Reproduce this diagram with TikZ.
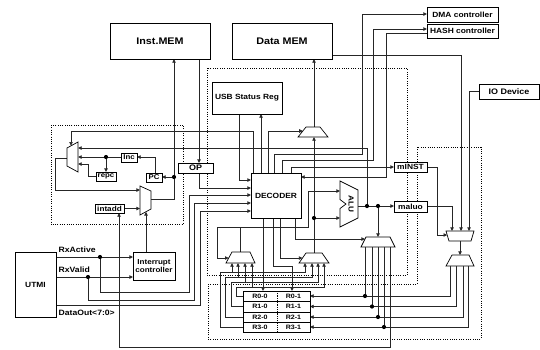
\documentclass[tikz,border=0pt]{standalone}
\usepackage{fontspec}
\setmainfont{Liberation Sans}[FakeStretch=1.12]
\usetikzlibrary{arrows.meta}
\newcommand{\fsz}[1]{\bfseries\fontsize{#1}{#1}\selectfont}
\begin{document}
\begin{tikzpicture}[x=1pt,y=-1pt,
  box/.style={draw,line width=0.7pt,fill=white,inner sep=0pt,font=\fsz{7.5}},
  wire/.style={line width=0.7pt,black!85},
  arr/.style={wire,-{Triangle[length=3.6pt,width=3.4pt]}},
  dotbox/.style={line width=0.8pt,dash pattern=on 1pt off 1.3pt},
  mux/.style={draw,line width=0.7pt,fill=white},
  jdot/.style={circle,fill=black,inner sep=0pt,minimum size=4.2pt},
  lbl/.style={font=\fsz{7.7},inner sep=0pt,anchor=west},
  reg/.style={font=\fsz{6.3},inner sep=0pt}]
\useasboundingbox[fill=white] (0,0) rectangle (540,349);

% dashed regions
\draw[dotbox] (207,68) rectangle (407,275);
\draw[dotbox] (51,125) rectangle (183,224.5);
\draw[dotbox] (208,284) -- (417,284) -- (417,147) -- (481,147) -- (481,339) -- (208,339) -- cycle;

% ---------- wires from DECODER top
\draw[arr] (253,173) -- (253,131) -- (71,131) -- (71,145.6);
\draw[arr] (261,173) -- (261,114);
\draw[arr] (268,173) -- (268,131) -- (302.8,131);
\draw[arr] (274,173) -- (274,154) -- (362,154) -- (362,14) -- (427,14);
\draw[arr] (282,173) -- (282,160) -- (373,160) -- (373,29) -- (427,29);
\draw[arr] (291,173) -- (291,167) -- (394,167);
% ---------- DECODER left inputs
\draw[arr] (239,114) -- (239,180) -- (251,180);
\draw[arr] (199,173) -- (199,188) -- (251,188);
\draw[arr] (100,257) -- (100,292) -- (189,292) -- (189,195) -- (251,195);
\draw[arr] (88,277) -- (88,300) -- (194,300) -- (194,203) -- (251,203);
\draw[arr] (56,305) -- (200,305) -- (200,211) -- (251,211);
% ---------- UTMI to interrupt controller
\draw[arr] (56,257) -- (133,257);
\draw[arr] (56,277) -- (133,277);
% ---------- PC logic
\draw[arr] (146,252) -- (146,211.9);
\draw[arr] (124,208.5) -- (140,208.5);
\draw[arr] (67,158) -- (55,158) -- (55,190) -- (140,190);
\draw[wire] (151,199) -- (174,199) -- (174,177);
\draw[arr] (174,177) -- (162,177);
\draw[arr] (174,177) -- (174,59);
\draw[arr] (155,173) -- (155,157) -- (137,157);
\draw[arr] (121,157) -- (78,157);
\draw[arr] (106,157) -- (106,172);
\draw[arr] (96,176.5) -- (88,176.5) -- (88,164) -- (78,164);
\draw[arr] (199,59) -- (199,163);
\draw[arr] (367,206) -- (367,148) -- (78,148);
% ---------- ALU and write-back
\draw[arr] (358,206) -- (394,206);
\draw[arr] (378,206) -- (378,237);
\draw[arr] (295,218) -- (295,239) -- (365,239);
\draw[arr] (280,218) -- (280,258) -- (302.5,258);
\draw[arr] (263,218) -- (263,291);
\draw[arr] (273,218) -- (273,266) -- (292,266) -- (292,291);
\draw[arr] (314,253) -- (314,137);
\draw[arr] (314,218) -- (340,218);
\draw[arr] (314,127) -- (314,59);
\draw[arr] (240,252) -- (240,227) -- (308,227) -- (308,191) -- (340,191);
\draw[arr] (240,227) -- (217,227) -- (217,258) -- (228.7,258);
% ---------- peripherals
\draw[arr] (427,33) -- (386,33) -- (386,177) -- (301,177);
\draw[arr] (332,55) -- (461,55) -- (461,231);
\draw[arr] (479,91.5) -- (469,91.5) -- (469,231);
\draw[arr] (427,206) -- (452,206) -- (452,231);
\draw[arr] (427,167) -- (437,167) -- (437,235) -- (447.2,235);
\draw[arr] (460,241) -- (460,255);
% ---------- register write lines
\draw[arr] (450,266) -- (450,296) -- (310,296);
\draw[arr] (456,266) -- (456,306.5) -- (310,306.5);
\draw[arr] (463,266) -- (463,317) -- (310,317);
\draw[arr] (468,266) -- (468,327) -- (310,327);
\draw[wire] (365,247) -- (365,296);
\draw[wire] (372,247) -- (372,306.5);
\draw[wire] (378,247) -- (378,317);
\draw[wire] (384,247) -- (384,327);
\draw[arr] (390,247) -- (390,347) -- (119,347) -- (119,213);
% ---------- register read lines
\draw[arr] (243,327) -- (220,327) -- (220,272) -- (305,272) -- (305,263);
\draw[arr] (232,272) -- (232,263);
\draw[arr] (243,317) -- (225.5,317) -- (225.5,277) -- (312,277) -- (312,263);
\draw[arr] (238,277) -- (238,263);
\draw[arr] (243,306.5) -- (231,306.5) -- (231,282) -- (318,282) -- (318,263);
\draw[arr] (245,282) -- (245,263);
\draw[arr] (243,296) -- (236.5,296) -- (236.5,287) -- (324,287) -- (324,263);
\draw[arr] (252,287) -- (252,263);

% ---------- multiplexers
\draw[mux] (78,142) -- (78,172) -- (67,166) -- (67,148) -- cycle;
\draw[mux] (140,186) -- (151,191) -- (151,209) -- (140,215) -- cycle;
\draw[mux] (306,127) -- (320,127) -- (328,137) -- (298,137) -- cycle;
\draw[mux] (232,252) -- (250,252) -- (255,263) -- (226,263) -- cycle;
\draw[mux] (306,253) -- (322,253) -- (329,263) -- (299,263) -- cycle;
\draw[mux] (366,237) -- (390,237) -- (395,247) -- (361,247) -- cycle;
\draw[mux] (446,231) -- (474,231) -- (471,241) -- (449,241) -- cycle;
\draw[mux] (452,255) -- (469,255) -- (474,266) -- (446,266) -- cycle;
% ALU
\draw[mux] (340,181) -- (358,190) -- (358,218) -- (340,227) -- (340,208.5) -- (346,204) -- (340,199.5) -- cycle;
\node[rotate=-90,font=\fsz{7.3},inner sep=0pt] (alu) at (351,204) {ALU};

% ---------- boxes
\node[box,minimum width=100pt,minimum height=36pt,font=\fsz{9.6}] (imem) at (160,41) {Inst.MEM};
\node[box,minimum width=100pt,minimum height=36pt,font=\fsz{9.6}] (dmem) at (282,41) {Data MEM};
\node[box,minimum width=71pt,minimum height=15pt] (dma) at (462.5,14.5) {DMA controller};
\node[box,minimum width=71pt,minimum height=14pt] (hash) at (462.5,31) {HASH controller};
\node[box,minimum width=60pt,minimum height=15pt,font=\fsz{8}] (io) at (509,91.5) {IO Device};
\node[box,minimum width=70pt,minimum height=32pt] (usb) at (247,98) {USB Status Reg};
\node[box,minimum width=50pt,minimum height=45pt] (dec) at (276,195.5) {DECODER};
\node[box,minimum width=35pt,minimum height=10pt,font=\fsz{8}] (op) at (195.5,168) {OP};
\node[box,minimum width=16pt,minimum height=9pt,font=\fsz{7}] (inc) at (129,157.5) {Inc};
\node[box,minimum width=20pt,minimum height=9pt,font=\fsz{7}] (repc) at (106,176.5) {repc};
\node[box,minimum width=16pt,minimum height=9pt,font=\fsz{7}] (pc) at (154,177.5) {PC};
\node[box,minimum width=29pt,minimum height=9pt,font=\fsz{7.3}] (intadd) at (109.5,208.5) {intadd};
\node[box,minimum width=42pt,minimum height=28pt,align=center,font=\fsz{7.2}] (intc) at (154,266) {Interrupt\\[1pt]controller};
\node[box,minimum width=41pt,minimum height=65pt] (utmi) at (35.5,284.5) {UTMI};
\node[box,minimum width=33pt,minimum height=10pt] (minst) at (410.5,167) {mINST};
\node[box,minimum width=33pt,minimum height=11pt] (maluo) at (410.5,206.5) {maluo};

% ---------- register file
\draw[line width=0.7pt,fill=white] (243,291) rectangle (310,332);
\draw[line width=0.7pt] (243,301.5) -- (310,301.5) (243,312) -- (310,312) (243,322) -- (310,322);
\draw[line width=0.6pt,dash pattern=on 0.8pt off 1pt] (277,291) -- (277,332);
\node[reg] (r00) at (260,296.3) {R0-0};
\node[reg] (r01) at (293.5,296.3) {R0-1};
\node[reg] (r10) at (260,306.8) {R1-0};
\node[reg] (r11) at (293.5,306.8) {R1-1};
\node[reg] (r20) at (260,317) {R2-0};
\node[reg] (r21) at (293.5,317) {R2-1};
\node[reg] (r30) at (260,327) {R3-0};
\node[reg] (r31) at (293.5,327) {R3-1};

% ---------- labels
\node[lbl] (lrxa) at (58.5,250) {RxActive};
\node[lbl] (lrxv) at (58.5,270) {RxValid};
\node[lbl] (ldo) at (58.5,313) {DataOut<7:0>};

% ---------- junction dots
\foreach \p in {(100,257),(88,277),(106,157),(174,177),(367,206),(378,206),(314,218),(365,296),(372,306.5),(378,317),(384,327)}
  \node[jdot] at \p {};
\end{tikzpicture}
\end{document}
